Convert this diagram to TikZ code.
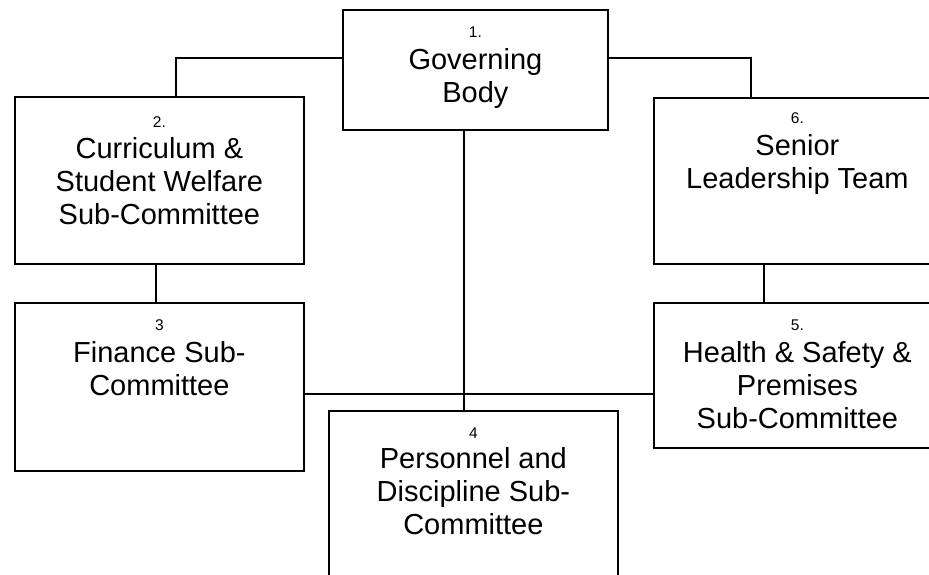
\documentclass[tikz,border=0pt]{standalone}
\usepackage{fontspec}
\setmainfont{Liberation Sans}
\begin{document}
\begin{tikzpicture}[x=1pt,y=-1pt,
  orgbox/.style={draw=black, line width=1.8pt, rectangle, inner sep=0pt, anchor=north west},
  numtext/.style={inner sep=0pt, anchor=base, font=\fontsize{15.5}{18}\selectfont},
  maintext/.style={inner sep=0pt, anchor=base, font=\fontsize{29}{33}\selectfont},
  conn/.style={draw=black, line width=1.8pt}]
\useasboundingbox (0,0) rectangle (929,574);
\clip (0,0) rectangle (929,574);
% boxes
\node[orgbox, minimum width=265pt, minimum height=120pt] (b1) at (342,9) {};
\node[orgbox, minimum width=289pt, minimum height=167pt] (b2) at (14,96) {};
\node[orgbox, minimum width=289pt, minimum height=168pt] (b3) at (14,302) {};
\node[orgbox, minimum width=289pt, minimum height=168pt] (b4) at (328,410) {};
\node[orgbox, minimum width=287pt, minimum height=145pt] (b5) at (653,302) {};
\node[orgbox, minimum width=287pt, minimum height=166pt] (b6) at (653,97) {};
% texts
\node[numtext] (n1) at ([yshift=-28pt]b1.north) {1.};
\node[maintext] (t1) at ([yshift=-60pt]b1.north) {\begin{tabular}[t]{@{}c@{}}Governing\\Body\end{tabular}};
\node[numtext] (n2) at ([yshift=-31pt]b2.north) {2.};
\node[maintext] (t2) at ([yshift=-62pt]b2.north) {\begin{tabular}[t]{@{}c@{}}Curriculum \&\\Student Welfare\\Sub-Committee\end{tabular}};
\node[numtext] (n3) at ([yshift=-28pt]b3.north) {3};
\node[maintext] (t3) at ([yshift=-60pt]b3.north) {\begin{tabular}[t]{@{}c@{}}Finance Sub-\\Committee\end{tabular}};
\node[numtext] (n4) at ([yshift=-28pt]b4.north) {4};
\node[maintext] (t4) at ([yshift=-58pt]b4.north) {\begin{tabular}[t]{@{}c@{}}Personnel and\\Discipline Sub-\\Committee\end{tabular}};
\node[numtext] (n5) at ([yshift=-28pt]b5.north) {5.};
\node[maintext] (t5) at ([yshift=-60pt]b5.north) {\begin{tabular}[t]{@{}c@{}}Health \& Safety \&\\Premises\\Sub-Committee\end{tabular}};
\node[numtext] (n6) at ([yshift=-26pt]b6.north) {6.};
\node[maintext] (t6) at ([yshift=-58pt]b6.north) {\begin{tabular}[t]{@{}c@{}}Senior\\Leadership Team\end{tabular}};
% connectors
\draw[conn] ([yshift=12pt]b1.west) -| ([xshift=16.5pt]b2.north);
\draw[conn] ([yshift=12pt]b1.east) -| ([xshift=-46.5pt]b6.north);
\draw[conn] ([xshift=-3.5pt]b2.south) -- ([xshift=-3.5pt]b3.north);
\draw[conn] ([xshift=-33.5pt]b6.south) -- ([xshift=-33.5pt]b5.north);
\draw[conn] ([xshift=-11.5pt]b1.south) -- ([xshift=-11.5pt]b1.south |- b4.north);
\draw[conn] ([yshift=-7pt]b3.east) -- ([yshift=-7pt]b3.east -| b5.west);
\end{tikzpicture}
\end{document}
